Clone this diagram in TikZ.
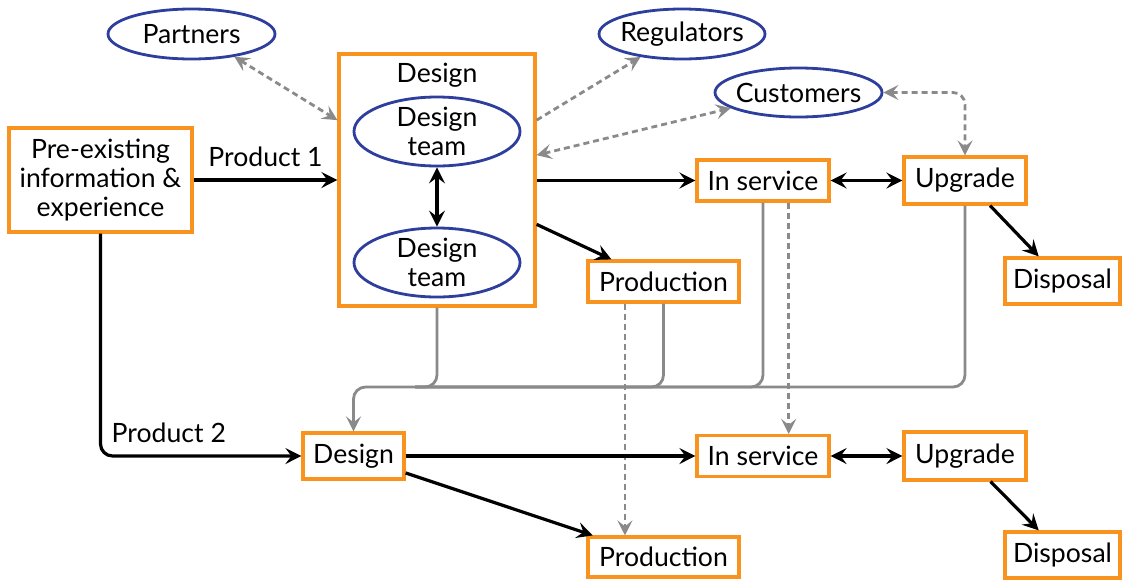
\documentclass[tikz,border=0pt]{standalone}
\usepackage{fontspec}
\setmainfont{Lato}
\usetikzlibrary{arrows.meta,shapes.geometric,calc}
\definecolor{orangeb}{RGB}{247,147,30}
\definecolor{blueb}{RGB}{46,62,156}
\definecolor{grayl}{RGB}{138,138,138}
\tikzset{
  box/.style={draw=orangeb, line width=1.6pt, rectangle, inner sep=0pt, align=center, fill=white},
  oval/.style={draw=blueb, line width=1.4pt, ellipse, inner sep=0pt},
  txt/.style={inner sep=0pt, align=center},
  blk/.style={draw=black, line width=1.6pt, arrows={-Stealth[length=8pt,width=8pt,inset=3pt]}},
  blkd/.style={draw=black, line width=1.6pt, arrows={Stealth[length=8pt,width=8pt,inset=3pt]-Stealth[length=8pt,width=8pt,inset=3pt]}},
  gsolid/.style={draw=grayl, line width=1.4pt},
  gdash/.style={draw=grayl, line width=1.4pt, dash pattern=on 3pt off 2pt},
  gtip/.style={-{Stealth[length=7.5pt,width=7.5pt,inset=3pt]}},
  gtipd/.style={{Stealth[length=7.5pt,width=7.5pt,inset=3pt]}-{Stealth[length=7.5pt,width=7.5pt,inset=3pt]}},
  lbl/.style={inner sep=0pt}
}
\begin{document}
\begin{tikzpicture}[x=0.5pt,y=-0.5pt,font=\fontsize{13.3}{14.5}\selectfont]
\useasboundingbox (0,0) rectangle (1123,579);
% ellipses
\node[oval, minimum width=83.5pt, minimum height=25pt, label={[txt]center:Partners}] (partners) at (191.5,34) {};
\node[oval, minimum width=83pt, minimum height=25pt, label={[txt]center:Regulators}] (regulators) at (682,34) {};
\node[oval, minimum width=83.5pt, minimum height=24.5pt, label={[txt]center:Customers}] (customers) at (798.5,92.5) {};
% main boxes row 1
\node[box, minimum width=91.5pt, minimum height=52pt] (pre) at (100.5,180) {Pre-existing\\information \&\\experience};
\node[box, minimum width=98pt, minimum height=126pt] (design) at (437,180) {};
\node[txt] (designlbl) at (437,75) {Design};
\node[oval, minimum width=83pt, minimum height=34.5pt, label={[txt]center:{Design\\team}}] (dt1) at (437,131.5) {};
\node[oval, minimum width=83pt, minimum height=34.5pt, label={[txt]center:{Design\\team}}] (dt2) at (437,262.5) {};
\node[box, minimum width=66pt, minimum height=20.5pt] (insvc1) at (763,180.5) {In service};
\node[box, minimum width=61pt, minimum height=23.5pt] (upg1) at (965,180.5) {Upgrade};
\node[box, minimum width=57.5pt, minimum height=23pt] (disp1) at (1062.5,281) {Disposal};
\node[box, minimum width=75.5pt, minimum height=20.5pt] (prod1) at (663.5,281.5) {Production};
% row 2
\node[box, minimum width=50.5pt, minimum height=23pt] (design2) at (353.5,456) {Design};
\node[box, minimum width=66pt, minimum height=20.5pt] (insvc2) at (763,456) {In service};
\node[box, minimum width=61pt, minimum height=24pt] (upg2) at (965,456) {Upgrade};
\node[box, minimum width=75.5pt, minimum height=20pt] (prod2) at (663.5,557) {Production};
\node[box, minimum width=57.5pt, minimum height=23pt] (disp2) at (1062.5,555) {Disposal};
% gray feedback lines
\coordinate (fb) at (353.5,387);
\coordinate (fbm) at (415,387);
\draw[gsolid, rounded corners=6pt, gtip] (design.south) |- (fb) -- (design2.north);
\draw[gsolid, rounded corners=6pt] (prod1.south) |- (fbm);
\draw[gsolid, rounded corners=6pt] (insvc1.south) |- (fbm);
\draw[gsolid, rounded corners=6pt] (upg1.south) |- (fbm);
% gray dashed
\coordinate (pd1) at ($(prod1.south west)!0.25!(prod1.south east)$);
\draw[gdash, gtip] (pd1) -- (pd1 |- prod2.north);
\coordinate (sd1) at ($(insvc1.south west)!0.69!(insvc1.south east)$);
\draw[gdash, gtip] (sd1) -- (sd1 |- insvc2.north);
\draw[gdash, gtipd] (partners.-28) -- (design.149);
\draw[gdash, gtip] (design.31) -- (regulators.209);
\draw[gdash, gtipd] (design.14) -- (customers.193);
\draw[gdash, gtipd, rounded corners=6pt] (customers.east) -| (upg1.north);
% black connectors
\draw[blk] (pre.east) -- node[lbl, above=6pt] {Product 1} (design.west);
\draw[blkd] (dt1.south) -- (dt2.north);
\draw[blk] (design.east |- insvc1.west) -- (insvc1.west);
\draw[blk] (design.-24) -- (prod1.157);
\draw[blkd] (insvc1.east) -- (upg1.west);
\draw[blk] (upg1.-45) -- (disp1.134);
\draw[blk, rounded corners=6pt] (pre.south) |- node[lbl, pos=0.67, above=6pt] {Product 2} (design2.west);
\draw[blk] (design2.east) -- (insvc2.west);
\draw[blk] (design2.-18) -- (prod2.163);
\draw[blkd] (insvc2.east) -- (upg2.west);
\draw[blk] (upg2.-45) -- (disp2.134);
\end{tikzpicture}
\end{document}
